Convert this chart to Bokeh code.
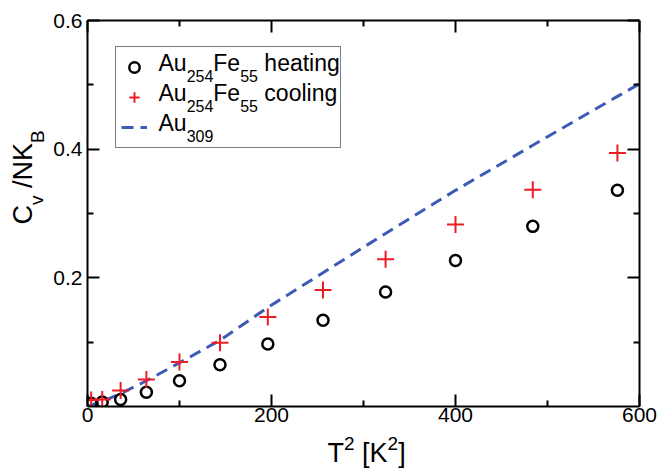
from bokeh.plotting import figure
from bokeh.layouts import row, column
from bokeh.models import Range1d, FixedTicker, LinearAxis, Label, Legend, LegendItem
from bokeh.embed import file_html
from bokeh.resources import INLINE

# ---- data ----
t2 = [4, 16, 36, 64, 100, 144, 196, 256, 324, 400, 484, 576]
heating = [0.005, 0.007, 0.011, 0.022, 0.040, 0.065, 0.097, 0.134, 0.178, 0.227, 0.280, 0.336]
cooling = [0.010, 0.011, 0.025, 0.042, 0.069, 0.099, 0.139, 0.181, 0.229, 0.283, 0.337, 0.394]
au309_t2 = [0, 4, 16, 36, 64, 100, 144, 196, 256, 324, 400, 484, 576, 625]
au309 = [0.0, 0.002, 0.008, 0.020, 0.040, 0.068, 0.103, 0.154, 0.208, 0.269, 0.336, 0.406, 0.482, 0.522]

x_ticks = [0, 200, 400, 600]
x_minor = [100, 300, 500]
y_ticks = [0.2, 0.4, 0.6]
y_minor = [0.1, 0.3, 0.5]

FONT = "Liberation Sans"
W = {"A": .667, "u": .556, "F": .611, "e": .556, "h": .556, "a": .556, "t": .278,
     "i": .222, "n": .556, "g": .556, "c": .5, "o": .556, "l": .222, " ": .278,
     "C": .722, "v": .5, "/": .278, "N": .722, "K": .667, "B": .667, "T": .611,
     "[": .278, "]": .278}
BASE_FIX = 0.33  # renderer draws "alphabetic" text this fraction of the size too low


def tw(s, size):
    return sum(W.get(ch, 0.556) for ch in s) * size


def make_label(text, size, x, y, angle=0.0):
    return Label(x=x, y=y, angle=angle, x_units="screen", y_units="screen", text=text,
                 text_font=FONT, text_font_size=f"{size}px", text_color="black",
                 text_baseline="alphabetic", text_align="left")


def add_runs(fig, runs, x0, y0, rotated=False):
    pos = 0.0
    for text, size, shift in runs:
        stripped = text.lstrip(" ")
        pos += tw(text[:len(text) - len(stripped)], size)
        up = shift + BASE_FIX * size
        if rotated:
            lab = make_label(stripped, size, x0 - up, y0 + pos, 1.5707963267948966)
        else:
            lab = make_label(stripped, size, x0 + pos, y0 + up)
        fig.add_layout(lab)
        pos += tw(stripped, size)


def text_panel(width, height):
    f = figure(width=width, height=height, output_backend="svg", toolbar_location=None,
               x_range=Range1d(0, 1), y_range=Range1d(0, 1),
               x_axis_location=None, y_axis_location=None,
               min_border_left=0, min_border_right=0, min_border_top=0, min_border_bottom=0)
    f.outline_line_color = None
    f.grid.visible = False
    return f


LEFT_W = 48
MAIN_H = 431

p = figure(width=660 - LEFT_W, height=MAIN_H, output_backend="svg", toolbar_location=None,
           x_range=Range1d(0, 600), y_range=Range1d(0, 0.6),
           x_axis_location=None, y_axis_location=None,
           min_border_left=87 - LEFT_W, min_border_right=21, min_border_top=20,
           min_border_bottom=MAIN_H - 406)
p.outline_line_color = None
p.grid.visible = False

xt = FixedTicker(ticks=x_ticks, minor_ticks=x_minor)
yt = FixedTicker(ticks=y_ticks, minor_ticks=y_minor)
ax_b = LinearAxis(ticker=xt, major_label_text_font_size="21px", major_label_standoff=1)
ax_l = LinearAxis(ticker=yt, major_label_text_font_size="21px", major_label_standoff=5)
ax_t = LinearAxis(ticker=xt, major_label_text_font_size="0px", major_label_standoff=0)
ax_r = LinearAxis(ticker=yt, major_label_text_font_size="0px", major_label_standoff=0)
p.add_layout(ax_b, "below")
p.add_layout(ax_l, "left")
p.add_layout(ax_t, "above")
p.add_layout(ax_r, "right")
for ax in (ax_b, ax_l, ax_t, ax_r):
    ax.axis_line_width = 2
    ax.major_tick_line_width = 2
    ax.minor_tick_line_width = 2
    ax.major_tick_in = 12
    ax.major_tick_out = 0
    ax.minor_tick_in = 6
    ax.minor_tick_out = 0
    ax.major_label_text_font = FONT
    ax.major_label_text_color = "black"

r_line = p.line(au309_t2, au309, line_color="#3b5bb5", line_width=3, line_dash="12 7")
r_heat = p.scatter(t2, heating, marker="circle", size=11, fill_color=None,
                   line_color="black", line_width=2.5)
r_cool = p.scatter(t2, cooling, marker="cross", size=17, line_color="#ee1c25", line_width=2)

legend = Legend(items=[LegendItem(label=" ", renderers=[r_heat]),
                       LegendItem(label=" ", renderers=[r_cool]),
                       LegendItem(label=" ", renderers=[r_line])],
                location=(28, 258), padding=5, spacing=0, margin=0,
                glyph_width=26, glyph_height=30, label_height=30, label_width=176,
                label_standoff=12, label_text_font_size="10px",
                border_line_color="black", border_line_width=1,
                background_fill_alpha=0)
p.add_layout(legend)

# legend texts (drawn under the transparent legend box)
LX = 71
add_runs(p, [("Au", 23, 0), ("254", 16, -10), ("Fe", 23, 0), ("55", 16, -10), (" heating", 23, 0)], LX, 335.5)
add_runs(p, [("Au", 23, 0), ("254", 16, -10), ("Fe", 23, 0), ("55", 16, -10), (" cooling", 23, 0)], LX, 305.5)
add_runs(p, [("Au", 23, 0), ("309", 16, -10)], LX, 275.5)

# y-axis title panel
ylab = text_panel(LEFT_W, MAIN_H)
add_runs(ylab, [("C", 27, 0), ("v", 19, -11), (" /NK", 27, 0), ("B", 19, -12)], 31, MAIN_H - 249, rotated=True)

# x-axis title panel
xlab = text_panel(660, 472 - MAIN_H)
add_runs(xlab, [("T", 27, 0), ("2", 19, 12), (" [K", 27, 0), ("2", 19, 12), ("]", 27, 0)], 327, 472 - 461)

layout = column(row(ylab, p, spacing=0), xlab, spacing=0)

open("out.html", "w").write(file_html(layout, INLINE))
